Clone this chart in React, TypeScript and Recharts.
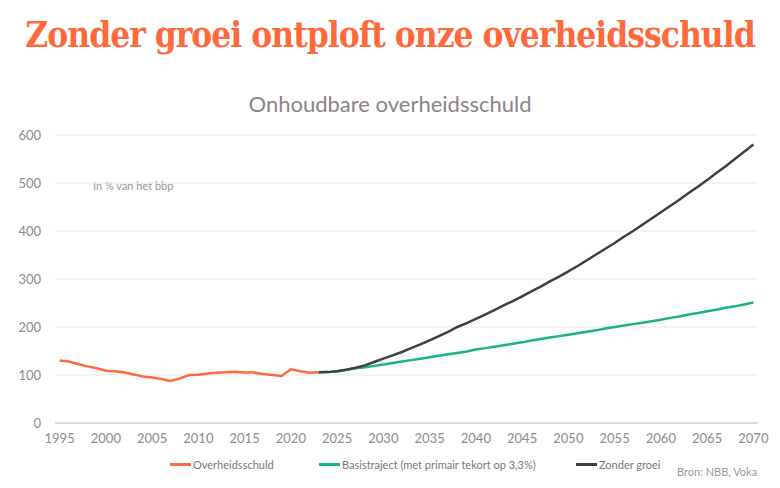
import React from "react";
import { LineChart, Line, XAxis, YAxis, CartesianGrid } from "recharts";

const years = Array.from({ length: 76 }, (_, i) => 1995 + i);

// Overheidsschuld 1995-2023 (% bbp)
const debtValues = [
  130, 128, 123, 118, 114, 109, 107.6, 105, 101, 97, 95, 91.5, 87.5, 93, 100, 100.3,
  103, 104.5, 105.5, 107, 105, 105, 102, 100, 98, 112, 108, 104.5, 105.5,
];

// Basistraject 2023-2070
const baseValues = [
  105.5, 106, 108, 111, 114, 116, 119, 122, 125, 128, 131, 134, 137, 140, 143, 146,
  149, 153, 156, 159, 162, 165, 168, 172, 175, 178, 181, 184, 187, 190, 193, 197,
  200, 203, 206, 209, 212, 215, 219, 222, 226, 229, 233, 236, 240, 243, 247, 251,
];

// Zonder groei 2023-2070
const noGrowthValues = [
  105.5, 106, 108, 111, 115, 120, 127, 134, 141, 148, 156, 164, 172, 181, 190, 200,
  208, 217, 226, 235, 245, 254, 264, 274, 284, 295, 305, 316, 327, 339, 351, 363,
  375, 388, 400, 413, 426, 439, 452, 465, 479, 492, 506, 521, 535, 550, 565, 580,
];

const xTicks = [1995, 2000, 2005, 2010, 2015, 2020, 2025, 2030, 2035, 2040, 2045, 2050, 2055, 2060, 2065, 2070];
const yTicks = [0, 100, 200, 300, 400, 500, 600];

const data = years.map((year, i) => ({
  year,
  debt: i < debtValues.length ? debtValues[i] : undefined,
  base: i >= 28 ? baseValues[i - 28] : undefined,
  noGrowth: i >= 28 ? noGrowthValues[i - 28] : undefined,
}));

const ORANGE = "#ff6a3d";
const GREEN = "#1bb386";
const DARK = "#3f3f3f";
const GREY = "#8c8c8c";
const FONT = "Lato, 'Open Sans', sans-serif";

function LegendItem({ color, label, left }: { color: string; label: string; left: number }) {
  return (
    <div style={{ position: "absolute", left, top: 458, display: "flex", alignItems: "center", fontSize: 11, color: "#777", fontFamily: FONT }}>
      <span style={{ display: "inline-block", width: 21, height: 2.5, background: color, marginRight: 2 }} />
      {label}
    </div>
  );
}

export default function App() {
  return (
    <div style={{ position: "fixed", left: 0, top: 0, width: 780, height: 488, background: "#fff", overflow: "hidden" }}>
      <div
        style={{
          position: "absolute",
          left: 0,
          width: 780,
          top: 14,
          textAlign: "center",
          fontFamily: "'DejaVu Serif Condensed', 'DejaVu Serif', serif",
          fontWeight: 700,
          fontSize: 35,
          color: ORANGE,
          letterSpacing: -1,
        }}
      >
        Zonder groei ontploft onze overheidsschuld
      </div>
      <div
        style={{
          position: "absolute",
          left: 0,
          width: 780,
          top: 90,
          textAlign: "center",
          fontFamily: FONT,
          fontSize: 22,
          color: "#8a8486",
        }}
      >
        Onhoudbare overheidsschuld
      </div>
      <div style={{ position: "absolute", left: 93, top: 179, fontFamily: FONT, fontSize: 11, color: "#999" }}>
        In % van het bbp
      </div>
      <LineChart
        width={780}
        height={488}
        data={data}
        margin={{ top: 135, right: 22, bottom: 35, left: 0 }}
        style={{ position: "absolute", left: 0, top: 0 }}
      >
        <CartesianGrid vertical={false} stroke="#e8e8e8" />
        <XAxis
          dataKey="year"
          type="number"
          domain={[1994.5, 2070.5]}
          ticks={xTicks}
          height={30}
          tickLine={false}
          axisLine={{ stroke: "#c4c4c4" }}
          tickSize={0}
          tickMargin={11}
          tick={{ fontSize: 13, fill: GREY, fontFamily: FONT }}
          interval={0}
        />
        <YAxis
          width={55}
          domain={[0, 600]}
          ticks={yTicks}
          axisLine={false}
          tickLine={false}
          tickSize={0}
          tickMargin={14}
          tick={{ fontSize: 13, fill: GREY, fontFamily: FONT }}
        />
        <Line dataKey="base" stroke={GREEN} strokeWidth={2.5} dot={false} isAnimationActive={false} />
        <Line dataKey="noGrowth" stroke={DARK} strokeWidth={2.5} dot={false} isAnimationActive={false} />
        <Line dataKey="debt" stroke={ORANGE} strokeWidth={2.5} dot={false} isAnimationActive={false} />
      </LineChart>
      <LegendItem color={ORANGE} label="Overheidsschuld" left={170} />
      <LegendItem color={GREEN} label="Basistraject (met primair tekort op 3,3%)" left={319} />
      <LegendItem color={DARK} label="Zonder groei" left={576} />
      <div style={{ position: "absolute", left: 677, top: 465, fontFamily: FONT, fontSize: 11, color: "#999" }}>
        Bron: NBB, Voka
      </div>
    </div>
  );
}
